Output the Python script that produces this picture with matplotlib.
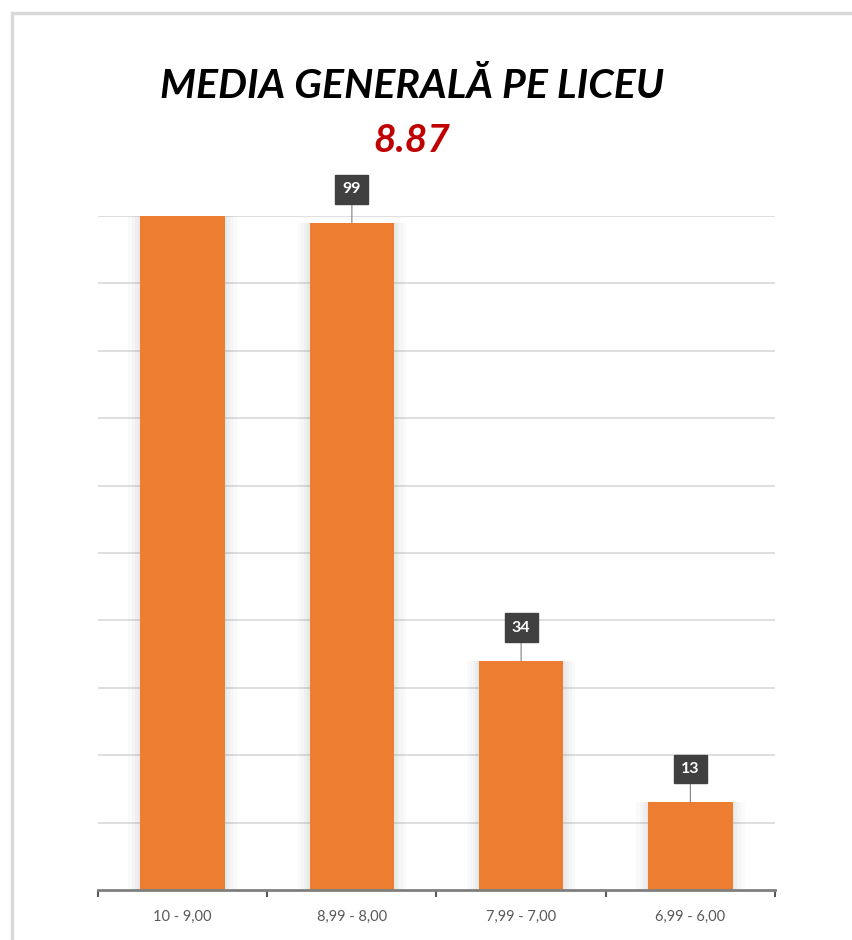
import matplotlib.pyplot as plt
from matplotlib.patches import Rectangle
import numpy as np

# date
categorii = ['10 - 9,00', '8,99 - 8,00', '7,99 - 7,00', '6,99 - 6,00']
elevi = [100, 99, 34, 13]          # prima bara iese din grafic (eticheta nu se vede)
arata_eticheta = [False, True, True, True]
media = '8.87'
titlu = 'MEDIA GENERALĂ PE LICEU'

portocaliu = '#ED7D31'

fig = plt.figure(figsize=(8.53, 9.40), dpi=100)
fig.patch.set_facecolor('white')

# chenarul gri al zonei de grafic
fig.patches.append(Rectangle((12/853, -0.1), 1.0, 1.1 - 13/940, transform=fig.transFigure,
                             fill=False, edgecolor='#D9D9D9', lw=2.5, zorder=0))

ax = fig.add_axes([98/853, 50/940, 677/853, 674/940])
x = np.arange(len(categorii))

# umbra difuza in spatele barelor
for k, a in [(0.14, 0.04), (0.10, 0.04), (0.06, 0.05), (0.03, 0.06)]:
    ax.bar(x, elevi, width=0.5 + k, color='#808080', alpha=a, zorder=1, lw=0)
ax.bar(x, elevi, width=0.5, color=portocaliu, zorder=2, lw=0)

ax.set_xlim(-0.5, len(categorii) - 0.5)
ax.set_ylim(0, 100)
ax.set_yticks(np.arange(10, 101, 10))
ax.yaxis.grid(True, color='#D9D9D9', lw=1.2)
ax.set_axisbelow(True)
ax.tick_params(axis='y', length=0, labelleft=False)

for s in ['top', 'right', 'left']:
    ax.spines[s].set_visible(False)
ax.spines['bottom'].set_color('#7F7F7F')
ax.spines['bottom'].set_linewidth(2)

ax.set_xticks(x)
ax.set_xticklabels(categorii, fontsize=10.5, color='#595959', family='Lato')
ax.tick_params(axis='x', length=0, pad=14)
ax.set_xticks(np.arange(-0.5, len(categorii), 1), minor=True)
ax.tick_params(axis='x', which='minor', length=5, width=1.5, color='#595959', direction='out')

# etichete cu valori
for xi, v, show in zip(x, elevi, arata_eticheta):
    if not show:
        continue
    ax.annotate(str(v), xy=(xi, v), xytext=(0, 24), textcoords='offset points',
                ha='center', va='center', color='white', fontsize=11.5, fontweight='bold',
                family='Lato',
                bbox=dict(boxstyle='square,pad=0.45', fc='#404040', ec='#404040'),
                arrowprops=dict(arrowstyle='-', color='#7F7F7F', lw=0.8, shrinkA=0, shrinkB=0),
                zorder=5)

fig.text(412/853, 1 - 87/940, titlu, ha='center', va='center', fontsize=29.5,
         fontweight='bold', style='italic', family='Lato', color='black')
fig.text(412/853, 1 - 141/940, media, ha='center', va='center', fontsize=28,
         fontweight='bold', style='italic', family='Lato', color='#C00000')

fig.savefig('out.png', dpi=100, facecolor='white')
